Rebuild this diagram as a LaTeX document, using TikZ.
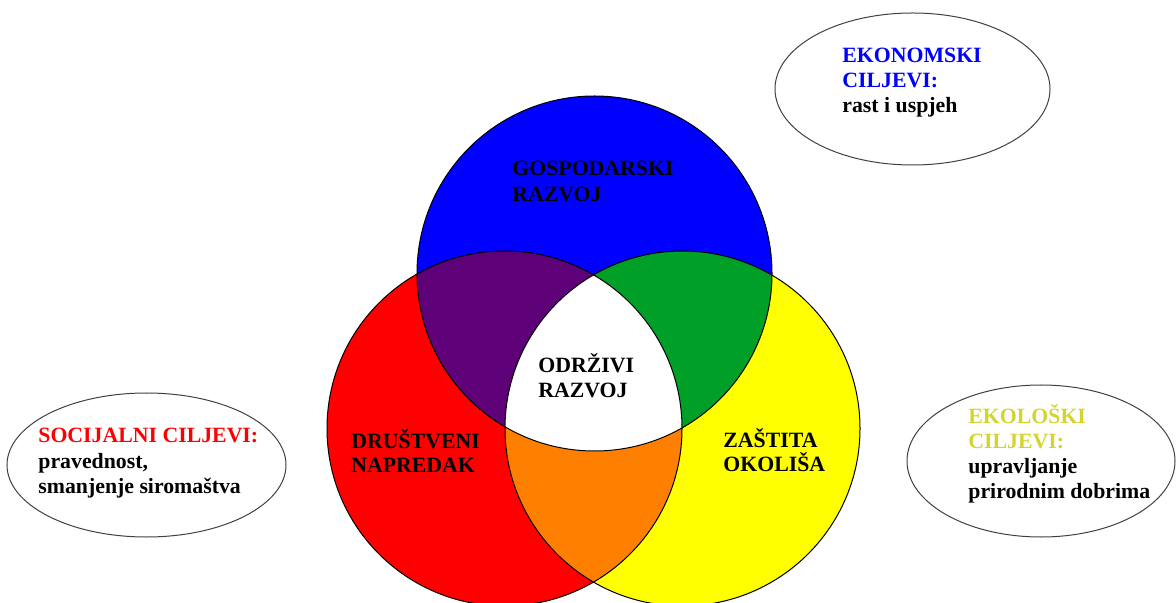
\documentclass[tikz,border=0pt]{standalone}
\usepackage{fontspec}
\setmainfont{Liberation Serif}
\usepackage{xcolor}
\definecolor{myblue}{RGB}{0,0,255}
\definecolor{myred}{RGB}{255,0,0}
\definecolor{myyellow}{RGB}{255,255,0}
\definecolor{mypurple}{RGB}{94,0,120}
\definecolor{mygreen}{RGB}{0,160,40}
\definecolor{myorange}{RGB}{255,128,0}
\definecolor{myolive}{RGB}{212,212,48}

\begin{document}
\begin{tikzpicture}[x=0.5pt, y=-0.5pt,
    font=\fontsize{10.9}{12.5}\selectfont\bfseries,
    lbl/.style={anchor=base west, align=left, inner sep=0pt},
    ring/.style={draw=black, line width=0.5pt},
    goal/.style={draw=black!75, line width=0.5pt}]
    \useasboundingbox (0,0) rectangle (1176,603);
    \coordinate (gosp) at (594.5,273.5);
    \coordinate (drus) at (504.5,428.5);
    \coordinate (zast) at (682.5,428.5);
    % the three circles
    \fill[myblue]   (gosp) circle (177.5);
    \fill[myred]    (drus) circle (177.5);
    \fill[myyellow] (zast) circle (177.5);
    % pairwise overlaps
    \begin{scope}
        \clip (gosp) circle (177.5);
        \fill[mypurple] (drus) circle (177.5);
        \fill[mygreen]  (zast) circle (177.5);
    \end{scope}
    \begin{scope}
        \clip (drus) circle (177.5);
        \fill[myorange] (zast) circle (177.5);
    \end{scope}
    \begin{scope}
        \clip (gosp) circle (177.5);
        \clip (drus) circle (177.5);
        \fill[white] (zast) circle (177.5);
    \end{scope}
    \foreach \c in {gosp, drus, zast}
        \draw[ring] (\c) circle (177.5);
    % goal ellipses
    \draw[goal] (912.5,89) ellipse [x radius=137.5, y radius=76];
    \draw[goal] (146.5,465) ellipse [x radius=139.5, y radius=72];
    \draw[goal] (1041,461) ellipse [x radius=134, y radius=76];
    % labels (anchored at the baseline of their last line)
    \node[lbl] (gospodarski) at (512,202) {GOSPODARSKI\\[0.5pt]RAZVOJ};
    \node[lbl] (odrzivi) at (538,398) {ODRŽIVI\\RAZVOJ};
    \node[lbl] (drustveni) at (351,473) {DRUŠTVENI\\NAPREDAK};
    \node[lbl] (zastita) at (723,472) {ZAŠTITA\\OKOLIŠA};
    \node[lbl] (ekonomski) at (842,113)
        {{\color{myblue}EKONOMSKI}\\{\color{myblue}CILJEVI:}\\rast i uspjeh};
    \node[lbl] (socijalni) at (38,493)
        {{\color{myred}SOCIJALNI CILJEVI:}\\pravednost,\\smanjenje siromaštva};
    \node[lbl] (ekoloski) at (968,498)
        {{\color{myolive}EKOLOŠKI}\\{\color{myolive}CILJEVI:}\\upravljanje\\prirodnim dobrima};
\end{tikzpicture}
\end{document}
